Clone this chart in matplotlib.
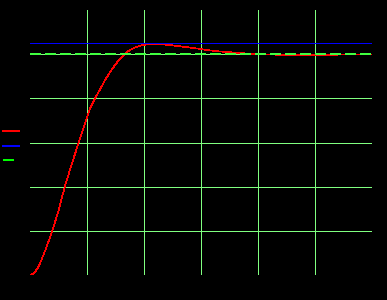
import matplotlib
matplotlib.use("Agg")
import matplotlib.pyplot as plt

plt.rcParams['lines.antialiased'] = False
plt.rcParams['lines.scale_dashes'] = False

# step response
t = [0, 0.05, 0.09, 0.15, 0.2, 0.27, 0.33, 0.39, 0.5, 0.61, 0.73, 0.854,
     0.995, 1.053, 1.14, 1.228, 1.316, 1.404, 1.49, 1.58, 1.667, 1.75, 1.84,
     1.93, 2.05, 2.2, 2.35, 2.5, 2.65, 2.8, 2.95, 3.1, 3.3, 3.5, 3.75, 4.0,
     4.5, 5.0, 5.5, 6.0]
y = [0, 0.005, 0.015, 0.038, 0.068, 0.113, 0.155, 0.2, 0.29, 0.4, 0.5, 0.6,
     0.709, 0.754, 0.80, 0.84, 0.882, 0.919, 0.95, 0.98, 1.003, 1.018, 1.030,
     1.038, 1.045, 1.046, 1.044, 1.04, 1.035, 1.03, 1.025, 1.019, 1.013,
     1.009, 1.004, 0.999, 0.997, 0.997, 0.998, 0.999]
t_lim = [0, 6]
upper = [1.05, 1.05]
ref = [1.0, 1.0]

fig = plt.figure(figsize=(387 / 72, 300 / 72), dpi=72, facecolor='black')
ax = fig.add_axes([30 / 387, 25 / 300, 342 / 387, 265 / 300])
ax.set_facecolor('black')

ax.plot(t, y, color='red', lw=0.7, label=' ')
ax.plot(t_lim, upper, color='blue', lw=1.0, label=' ')
ax.plot(t_lim, ref, color='#40ff40', lw=2.0, linestyle=(0, (10.7, 4.3)), label=' ')

ax.set_xlim(0, 6)
ax.set_ylim(0, 1.2)
ax.set_xticks([1, 2, 3, 4, 5])
ax.set_yticks([0.2, 0.4, 0.6, 0.8, 1.0])
ax.grid(True, color='#80ff80', lw=1.0, antialiased=False)
ax.set_axisbelow(True)
ax.tick_params(length=0, labelbottom=False, labelleft=False)
for s in ax.spines.values():
    s.set_visible(False)

leg = ax.legend(loc='center left', bbox_to_anchor=(3 / 387, 154 / 300),
                bbox_transform=fig.transFigure, frameon=False, fontsize=10,
                handlelength=1.6, handletextpad=0, borderpad=0, borderaxespad=0,
                labelspacing=0.45, labelcolor='black')
for h in leg.get_lines():
    h.set_linewidth(1.5)
leg.get_lines()[2].set_color('#00ff00')
leg.get_lines()[2].set_linestyle((0, (10, 10)))

fig.savefig('out.png', dpi=72, facecolor='black')
